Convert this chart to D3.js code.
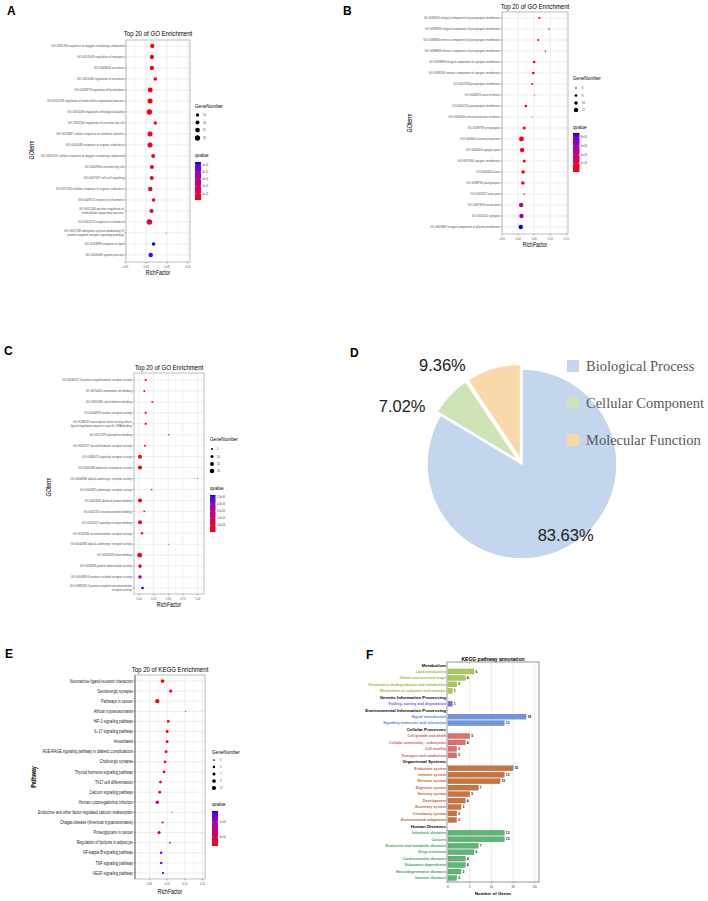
<!DOCTYPE html>
<html><head><meta charset="utf-8">
<script src="https://cdn.jsdelivr.net/npm/d3@7"></script>
<style>body{margin:0;background:#fff}svg{display:block}</style>
</head><body>
<svg id="fig" width="708" height="901"></svg>
<script>
// ---------------- Panel A data ----------------
const goA_terms = [
"GO:1901700 response to oxygen-containing compound",
"GO:0051049 regulation of transport",
"GO:0046903 secretion",
"GO:0051046 regulation of secretion",
"GO:0032879 regulation of localization",
"GO:0051239 regulation of multicellular organismal process",
"GO:0065008 regulation of biological quality",
"GO:1903530 regulation of secretion by cell",
"GO:0070887 cellular response to chemical stimulus",
"GO:0010033 response to organic substance",
"GO:1901701 cellular response to oxygen-containing compound",
"GO:0032940 secretion by cell",
"GO:0007267 cell-cell signaling",
"GO:0071310 cellular response to organic substance",
"GO:0009725 response to hormone",
"GO:0051240 positive regulation of\nmulticellular organismal process",
"GO:0042221 response to chemical",
"GO:0007188 adenylate cyclase-modulating G\nprotein-coupled receptor signaling pathway",
"GO:0033993 response to lipid",
"GO:0003008 system process"];
const goA_rich = [0.015,0.014,0.014,0.022,0.010,0.0095,0.008,0.022,0.0095,0.0095,0.017,0.014,0.0135,0.010,0.018,0.013,0.008,0.048,0.018,0.011];
const goA_genes = [22,22,22,17,27,28,31,16,28,28,19,21,21,24,17,21,33,5,17,24];
const goA_q = [0.1e-11,0.15e-11,0.15e-11,0.3e-11,0.2e-11,0.2e-11,0.2e-11,0.4e-11,0.4e-11,0.5e-11,0.7e-11,0.7e-11,0.7e-11,0.8e-11,0.8e-11,1.4e-11,1.6e-11,1.5e-11,5.4e-11,5.1e-11];
const goA_xTicks = [-0.05,0.00,0.05,0.10];
const goA_sizeBreaks = [15,20,25,30];
const goA_qBreaks = [1e-11,2e-11,3e-11,4e-11,5e-11];

// ---------------- Panel B data ----------------
const goB_terms = [
"GO:0099055 integral component of postsynaptic membrane",
"GO:0099056 integral component of presynaptic membrane",
"GO:0098936 intrinsic component of postsynaptic membrane",
"GO:0098889 intrinsic component of presynaptic membrane",
"GO:0099699 integral component of synaptic membrane",
"GO:0099240 intrinsic component of synaptic membrane",
"GO:0042734 presynaptic membrane",
"GO:0043679 axon terminus",
"GO:0045211 postsynaptic membrane",
"GO:0044306 neuron projection terminus",
"GO:0098793 presynapse",
"GO:0043005 neuron projection",
"GO:0044456 synapse part",
"GO:0097060 synaptic membrane",
"GO:0030424 axon",
"GO:0098794 postsynapse",
"GO:0033267 axon part",
"GO:0097458 neuron part",
"GO:0045202 synapse",
"GO:0005887 integral component of plasma membrane"];
const goB_rich = [0.066,0.096,0.0625,0.085,0.050,0.047,0.044,0.051,0.024,0.045,0.019,0.0104,0.0125,0.019,0.0156,0.0146,0.019,0.0094,0.0104,0.0083];
const goB_genes = [7,6,7,6,8,8,7,5,8,5,9,13,12,9,10,10,6,12,12,12];
const goB_q = [0.5e-6,0.6e-6,0.6e-6,0.7e-6,1e-6,1e-6,1.2e-6,4e-6,2e-6,5e-6,3e-6,3e-6,5e-6,6e-6,6e-6,7e-6,38e-6,52e-6,64e-6,90e-6];
const goB_xTicks = [-0.05,0.00,0.05,0.10,0.15];
const goB_sizeBreaks = [6,8,10,12];
const goB_qBreaks = [2e-5,4e-5,6e-5,8e-5];

// ---------------- Panel C data ----------------
const goC_terms = [
"GO:0008227 G protein-coupled amine receptor activity",
"GO:0070405 ammonium ion binding",
"GO:1901338 catecholamine binding",
"GO:0004879 nuclear receptor activity",
"GO:0098531 transcription factor activity, direct\nligand regulated sequence-specific DNA binding",
"GO:0051379 epinephrine binding",
"GO:0003707 steroid hormone receptor activity",
"GO:0038023 signaling receptor activity",
"GO:0060089 molecular transducer activity",
"GO:0004938 alpha2-adrenergic receptor activity",
"GO:0004935 adrenergic receptor activity",
"GO:0042802 identical protein binding",
"GO:0042165 neurotransmitter binding",
"GO:0005102 signaling receptor binding",
"GO:0030594 neurotransmitter receptor activity",
"GO:0004936 alpha1-adrenergic receptor activity",
"GO:0043169 cation binding",
"GO:0046983 protein dimerization activity",
"GO:0004930 G protein-coupled receptor activity",
"GO:0099528 G protein-coupled neurotransmitter\nreceptor activity"];
const goC_rich = [0.114,0.09,0.227,0.114,0.114,0.506,0.10,0.017,0.017,1.0,0.216,0.017,0.09,0.017,0.05,0.506,0.011,0.017,0.017,0.06];
const goC_genes = [6,5,5,6,6,3,5,16,16,2,4,16,5,16,7,2,22,13,13,8];
const goC_q = [0.3e-6,0.4e-6,0.5e-6,0.6e-6,0.6e-6,0.8e-6,1e-6,1e-6,1e-6,1.5e-6,1.5e-6,2e-6,2e-6,2.5e-6,3e-6,3e-6,3e-6,8e-6,15e-6,26.4e-6];
const goC_xTicks = [0.00,0.25,0.50,0.75,1.00];
const goC_sizeBreaks = [5,10,15,20];
const goC_qBreaks = [5e-6,1e-5,1.5e-5,2e-5,2.5e-5];

// ---------------- Panel D data ----------------
const pie_labels = ["Biological Process","Cellular Component","Molecular Function"];
const pie_values = [83.63, 7.02, 9.36];
const pie_colors = ["#c4d5ee","#d0e3b6","#f8d9a9"];

// ---------------- Panel E data ----------------
const keggE_terms = [
"Neuroactive ligand-receptor interaction","Serotonergic synapse","Pathways in cancer",
"African trypanosomiasis","HIF-1 signaling pathway","IL-17 signaling pathway","Amoebiasis",
"AGE-RAGE signaling pathway in diabetic complications","Cholinergic synapse",
"Thyroid hormone signaling pathway","Th17 cell differentiation","Calcium signaling pathway",
"Human cytomegalovirus infection","Endocrine and other factor-regulated calcium reabsorption",
"Chagas disease (American trypanosomiasis)","Proteoglycans in cancer",
"Regulation of lipolysis in adipocyte","NF-kappa B signaling pathway","TNF signaling pathway",
"VEGF signaling pathway"];
const keggE_rich = [0.037,0.060,0.022,0.102,0.053,0.050,0.050,0.047,0.044,0.041,0.031,0.029,0.022,0.064,0.037,0.027,0.058,0.033,0.033,0.038];
const keggE_genes = [9,7,11,2,6,6,6,6,6,6,6,6,8,2,4,7,3,5,5,4];
const keggE_q = [2e-4,2.3e-4,2.3e-4,3e-4,2.6e-4,2.6e-4,2.7e-4,2.8e-4,3e-4,3.2e-4,5e-4,5.5e-4,7.5e-4,7e-4,8e-4,8.5e-4,1.1e-3,1.15e-3,1.15e-3,1.37e-3];
const keggE_xTicks = [0.00,0.05,0.10,0.15];
const keggE_sizeBreaks = [3,5,7,9,11];
const keggE_qBreaks = [5e-4,1e-3];

// ---------------- Panel F data ----------------
const keggF_groups = ["Metabolism","Genetic Information Processing","Environmental Information Processing","Cellular Processes","Organismal Systems","Human Diseases"];
const keggF_groupBar = ["#a8cb5b","#7f6ef0","#6f95e0","#d9716f","#c9743e","#5db576"];
const keggF_groupText = ["#93bb45","#7259ee","#5a82d8","#c85c5c","#bb6530","#3f9d5c"];
const keggF_cats = ["Lipid metabolism","Global and overview maps","Xenobiotics biodegradation and metabolism","Metabolism of cofactors and vitamins",
"Folding, sorting and degradation",
"Signal transduction","Signaling molecules and interaction",
"Cell growth and death","Cellular community - eukaryotes","Cell motility","Transport and catabolism",
"Endocrine system","Immune system","Nervous system","Digestive system","Sensory system","Development","Excretory system","Circulatory system","Environmental adaptation",
"Infectious diseases","Cancers","Endocrine and metabolic diseases","Drug resistance","Cardiovascular diseases","Substance dependence","Neurodegenerative diseases","Immune diseases"];
const keggF_catGroup = [0,0,0,0,1,2,2,3,3,3,3,4,4,4,4,4,4,4,4,4,5,5,5,5,5,5,5,5];
const keggF_counts = [6,4,2,1,1,18,13,5,4,2,2,15,13,12,7,5,4,3,2,2,13,13,7,6,4,4,3,2];
const keggF_xTicks = [0,5,10,15,20];

// =================================================
const SANS = "'Liberation Sans', Arial, Helvetica, sans-serif";
const SERIF = "'Liberation Serif', 'Times New Roman', serif";
const svg = d3.select('#fig');
const defs = svg.append('defs');

function T(g, x, y, s, o = {}) {
  const fs = o.fs || 4, sx = o.sx || 1;
  let tf = `translate(${x},${y})`;
  if (o.rot) tf += ` rotate(${o.rot})`;
  tf += ` scale(${sx},1)`;
  const t = g.append('text').attr('transform', tf).attr('font-family', o.ff || SANS)
    .attr('font-size', fs).attr('fill', o.fill || '#000').attr('text-anchor', o.anchor || 'start')
    .attr('font-weight', o.fw || 'normal');
  const lines = String(s).split('\n');
  const lh = fs * 1.08;
  lines.forEach((l, i) => t.append('tspan').attr('x', 0)
    .attr('y', (i - (lines.length - 1) / 2) * lh).attr('dy', o.mid ? '0.35em' : 0).text(l));
  return t;
}
function rExp(v, d) {
  return v.toExponential(d).replace(/e([+-])(\d)$/, 'e$10$2');
}

function dotPanel(c) {
  const g = svg.append('g');
  const x = d3.scaleLinear().domain(c.xDomain).range([c.x0, c.x1]);
  const y = d3.scalePoint().domain(c.terms).range([c.r0, c.r1]);
  const qExt = d3.extent(c.q);
  const col = d3.scaleLinear().domain(qExt).range(['#ff0000', '#0000ff']).interpolate(d3.interpolateLab);
  const r = d3.scaleSqrt().domain(d3.extent(c.genes)).range(c.rRange);
  g.append('rect').attr('x', c.x0).attr('y', c.y0).attr('width', c.x1 - c.x0).attr('height', c.y1 - c.y0).attr('fill', '#fff');
  const tk = c.ticks, step = tk[1] - tk[0];
  const minors = [];
  for (let v = tk[0] - step / 2; v <= c.xDomain[1]; v += step) if (v >= c.xDomain[0]) minors.push(v);
  g.selectAll(null).data(minors).join('line').attr('x1', d => x(d)).attr('x2', d => x(d))
    .attr('y1', c.y0).attr('y2', c.y1).attr('stroke', '#f0f0f0').attr('stroke-width', 0.4);
  g.selectAll(null).data(tk).join('line').attr('x1', d => x(d)).attr('x2', d => x(d))
    .attr('y1', c.y0).attr('y2', c.y1).attr('stroke', '#e3e3e3').attr('stroke-width', 0.6);
  g.selectAll(null).data(c.terms).join('line').attr('x1', c.x0).attr('x2', c.x1)
    .attr('y1', d => y(d)).attr('y2', d => y(d)).attr('stroke', '#e3e3e3').attr('stroke-width', 0.6);
  g.append('rect').attr('x', c.x0).attr('y', c.y0).attr('width', c.x1 - c.x0).attr('height', c.y1 - c.y0)
    .attr('fill', 'none').attr('stroke', '#bdbdbd').attr('stroke-width', 1);
  if (c.darkAxis) g.append('line').attr('x1', c.x0).attr('x2', c.x0).attr('y1', c.y0).attr('y2', c.y1).attr('stroke', '#555').attr('stroke-width', 0.8);
  const rows = c.terms.map((t, i) => ({ t, rf: c.rich[i], n: c.genes[i], q: c.q[i] }));
  g.selectAll(null).data(rows).join('circle').attr('cx', d => x(d.rf)).attr('cy', d => y(d.t))
    .attr('r', d => r(d.n)).attr('fill', d => col(d.q));
  g.selectAll(null).data(c.terms).join('line').attr('x1', c.x0 - 1.5).attr('x2', c.x0)
    .attr('y1', d => y(d)).attr('y2', d => y(d)).attr('stroke', '#333').attr('stroke-width', 0.4);
  c.terms.forEach(t => T(g, c.x0 - 2.2, y(t), t, { fs: c.lfs, sx: c.lsx, anchor: 'end', mid: true, fill: c.lfill }));
  tk.forEach(v => {
    g.append('line').attr('x1', x(v)).attr('x2', x(v)).attr('y1', c.y1).attr('y2', c.y1 + 1.5).attr('stroke', '#333').attr('stroke-width', 0.4);
    T(g, x(v), c.tickY, d3.format('.2f')(v).replace('−', '-'), { fs: 3.1, sx: 0.85, anchor: 'middle', fill: '#4d4d4d' });
  });
  T(g, (c.x0 + c.x1) / 2, c.titleY, c.title, { fs: 7.6, sx: 0.8, anchor: 'middle' });
  T(g, (c.x0 + c.x1) / 2, c.xlabY, 'RichFactor', { fs: 6.3, sx: 0.8, anchor: 'middle' });
  T(g, c.ylabX, c.ylabY, c.ylab, { fs: 6.3, sx: 0.85, anchor: 'middle', rot: -90, fw: c.ylabFw || 'normal' });
  const L = c.leg;
  T(g, L.x, L.titleY, 'GeneNumber', { fs: 5.8, sx: 0.8 });
  L.sizes.forEach((v, i) => {
    g.append('circle').attr('cx', L.dotX).attr('cy', L.sizeY[i]).attr('r', r(v)).attr('fill', '#000');
    T(g, L.labX, L.sizeY[i], v, { fs: 3, sx: 0.85, mid: true, fill: '#333' });
  });
  T(g, L.x, L.qTitleY, 'qvalue', { fs: 5.8, sx: 0.8 });
  const gid = 'grad' + c.id;
  const gr = defs.append('linearGradient').attr('id', gid).attr('x1', 0).attr('y1', 1).attr('x2', 0).attr('y2', 0);
  d3.range(11).forEach(i => gr.append('stop').attr('offset', i / 10).attr('stop-color', col(qExt[0] + i / 10 * (qExt[1] - qExt[0]))));
  g.append('rect').attr('x', L.x).attr('y', L.barY0).attr('width', L.barW).attr('height', L.barY1 - L.barY0).attr('fill', `url(#${gid})`);
  const qy = d3.scaleLinear().domain(qExt).range([L.barY1, L.barY0]);
  L.qTicks.forEach(v => {
    g.append('line').attr('x1', L.x).attr('x2', L.x + 1.2).attr('y1', qy(v)).attr('y2', qy(v)).attr('stroke', '#fff').attr('stroke-width', 0.4);
    g.append('line').attr('x1', L.x + L.barW - 1.2).attr('x2', L.x + L.barW).attr('y1', qy(v)).attr('y2', qy(v)).attr('stroke', '#fff').attr('stroke-width', 0.4);
    T(g, L.x + L.barW + 1.5, qy(v), rExp(v, L.qDigits), { fs: 2.8, sx: 0.85, mid: true, fill: '#333' });
  });
}

// Panel A
dotPanel({ id: 'A', terms: goA_terms, rich: goA_rich, genes: goA_genes, q: goA_q, ticks: goA_xTicks,
  xDomain: [-0.048, 0.105], x0: 126, x1: 190, y0: 40, y1: 262, r0: 46, r1: 255, rRange: [0.6, 2.8],
  lfs: 3.7, lsx: 0.8, lfill: '#4d4d4d', tickY: 267.5, titleY: 36, xlabY: 275, ylabX: 34, ylabY: 150, ylab: 'GOterm',
  title: 'Top 20 of GO Enrichment',
  leg: { x: 195, titleY: 108, dotX: 197.5, labX: 203, sizes: goA_sizeBreaks, sizeY: [115, 122.5, 130, 138],
    qTitleY: 157, barY0: 162, barY1: 200, barW: 6, qTicks: goA_qBreaks, qDigits: 0 } });

// Panel B
dotPanel({ id: 'B', terms: goB_terms, rich: goB_rich, genes: goB_genes, q: goB_q, ticks: goB_xTicks,
  xDomain: [-0.05, 0.155], x0: 502, x1: 568, y0: 12, y1: 234, r0: 18, r1: 227, rRange: [0.5, 2.4],
  lfs: 3.6, lsx: 0.8, lfill: '#4d4d4d', tickY: 239.5, titleY: 9, xlabY: 247, ylabX: 412, ylabY: 123, ylab: 'GOterm',
  title: 'Top 20 of GO Enrichment',
  leg: { x: 573, titleY: 80, dotX: 576, labX: 582, sizes: goB_sizeBreaks, sizeY: [88, 95.5, 103, 110],
    qTitleY: 129, barY0: 133, barY1: 172, barW: 6.5, qTicks: goB_qBreaks, qDigits: 0 } });

// Panel C
dotPanel({ id: 'C', terms: goC_terms, rich: goC_rich, genes: goC_genes, q: goC_q, ticks: goC_xTicks,
  xDomain: [-0.086, 1.11], x0: 134, x1: 204, y0: 373, y1: 594, r0: 380, r1: 588, rRange: [0.5, 2.4],
  lfs: 3.6, lsx: 0.8, lfill: '#4d4d4d', tickY: 599.5, titleY: 370, xlabY: 607, ylabX: 51, ylabY: 487, ylab: 'GOterm',
  title: 'Top 20 of GO Enrichment',
  leg: { x: 210, titleY: 441, dotX: 212, labX: 217, sizes: goC_sizeBreaks, sizeY: [449, 456.5, 464, 471],
    qTitleY: 490, barY0: 495, barY1: 532, barW: 5.5, qTicks: goC_qBreaks, qDigits: 1 } });

// Panel E
dotPanel({ id: 'E', terms: keggE_terms, rich: keggE_rich, genes: keggE_genes, q: keggE_q, ticks: keggE_xTicks,
  xDomain: [-0.041, 0.157], x0: 135, x1: 205, y0: 675, y1: 879, r0: 681, r1: 873, rRange: [0.6, 2.1],
  lfs: 4.6, lsx: 0.8, lfill: '#1a1a1a', darkAxis: true, tickY: 885, titleY: 672, xlabY: 894, ylabX: 36, ylabY: 777,
  ylab: 'Pathway', ylabFw: 'bold', title: 'Top 20 of KEGG Enrichment',
  leg: { x: 212, titleY: 754, dotX: 214, labX: 220, sizes: keggE_sizeBreaks, sizeY: [760, 767, 774, 781, 788],
    qTitleY: 806, barY0: 811, barY1: 846, barW: 6, qTicks: keggE_qBreaks, qDigits: 0 } });

// ---------------- Panel D: pie ----------------
(function () {
  const cx = 522, cy = 464, R = 95;
  const g = svg.append('g').attr('transform', `translate(${cx},${cy})`);
  const arcs = d3.pie().sort(null).value(d => d)(pie_values);
  const arc = d3.arc().innerRadius(0).outerRadius(R);
  const explode = [0, 5, 5];
  g.selectAll(null).data(arcs).join('path')
    .attr('transform', (d, i) => { const m = (d.startAngle + d.endAngle) / 2; return `translate(${Math.sin(m) * explode[i]},${-Math.cos(m) * explode[i]})`; })
    .attr('d', arc).attr('fill', (d, i) => pie_colors[i]).attr('stroke', '#fff').attr('stroke-width', 1.5);
  const labR = [R * 0.88, R + 38, R + 32];
  const labShift = [-2, -18, -22];
  arcs.forEach((d, i) => {
    const m = (d.startAngle + d.endAngle) / 2 + labShift[i] * Math.PI / 180;
    T(g, Math.sin(m) * labR[i], -Math.cos(m) * labR[i], d3.format('.2f')(d.value) + '%', { fs: 16.5, anchor: 'middle', mid: true, fill: '#222' });
  });
  const lg = svg.append('g');
  pie_labels.forEach((l, i) => {
    lg.append('rect').attr('x', 567).attr('y', 360 + i * 37).attr('width', 12).attr('height', 12).attr('fill', pie_colors[i]);
    T(lg, 586, 366 + i * 37, l, { fs: 14.5, ff: SERIF, mid: true, fill: '#595959' });
  });
})();

// ---------------- Panel F: bars ----------------
(function () {
  const x0 = 447, x1 = 539, y0 = 662, y1 = 882;
  const g = svg.append('g');
  const slots = [];
  keggF_groups.forEach((gName, gi) => {
    slots.push({ key: 'H' + gi, head: true, name: gName });
    keggF_cats.forEach((c, ci) => { if (keggF_catGroup[ci] === gi) slots.push({ key: 'C' + ci, head: false, name: c, v: keggF_counts[ci], gi }); });
  });
  const y = d3.scalePoint().domain(slots.map(s => s.key)).range([665, 878]);
  const x = d3.scaleLinear().domain([0, 21.1]).range([448, 539.5]);
  g.append('rect').attr('x', x0).attr('y', y0).attr('width', x1 - x0).attr('height', y1 - y0).attr('fill', '#fff');
  g.selectAll(null).data(keggF_xTicks.slice(1)).join('line').attr('x1', d => x(d)).attr('x2', d => x(d))
    .attr('y1', y0).attr('y2', y1).attr('stroke', '#dedede').attr('stroke-width', 0.6);
  const cats = slots.filter(s => !s.head);
  g.selectAll(null).data(cats).join('rect').attr('x', x(0)).attr('y', d => y(d.key) - 2.5)
    .attr('width', d => x(d.v) - x(0)).attr('height', 5)
    .attr('fill', d => keggF_groupBar[d.gi]).attr('stroke', d => d3.color(keggF_groupBar[d.gi]).darker(0.8)).attr('stroke-width', 0.3);
  cats.forEach(d => T(g, x(d.v) + 1.5, y(d.key), d.v, { fs: 3.2, fw: 'bold', mid: true }));
  slots.forEach(s => {
    if (s.head) T(g, 446, y(s.key), s.name, { fs: 4.4, fw: 'bold', anchor: 'end', mid: true });
    else T(g, 446, y(s.key), s.name, { fs: 3.7, fw: 'bold', anchor: 'end', mid: true, fill: keggF_groupText[s.gi] });
  });
  g.append('rect').attr('x', x0).attr('y', y0).attr('width', x1 - x0).attr('height', y1 - y0)
    .attr('fill', 'none').attr('stroke', '#8c8c8c').attr('stroke-width', 0.9);
  keggF_xTicks.forEach(v => {
    g.append('line').attr('x1', x(v)).attr('x2', x(v)).attr('y1', y1).attr('y2', y1 + 1.5).attr('stroke', '#555').attr('stroke-width', 0.4);
    T(g, x(v), 888, v, { fs: 3.4, anchor: 'middle', fill: '#333' });
  });
  T(g, (x0 + x1) / 2, 895, 'Number of Genes', { fs: 4.4, fw: 'bold', anchor: 'middle' });
  T(g, (x0 + x1) / 2, 660.5, 'KEGG pathway annotation', { fs: 5, fw: 'bold', anchor: 'middle' });
})();

// ---------------- Panel letters ----------------
[['A', 7, 14.5], ['B', 343, 15], ['C', 4, 355], ['D', 350, 357], ['E', 5, 658], ['F', 366, 659]]
  .forEach(([s, x, y]) => T(svg, x, y, s, { fs: 12, fw: 'bold' }));
</script>
</body></html>
